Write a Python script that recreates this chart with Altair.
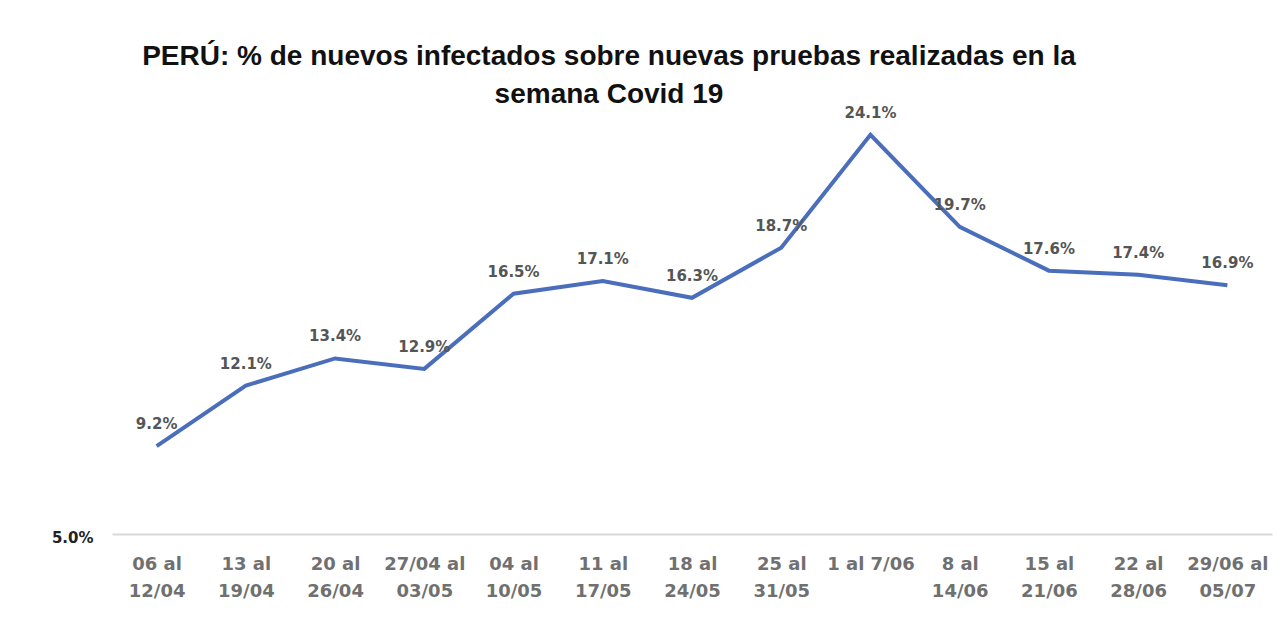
import altair as alt
import pandas as pd

semanas = [
    "06 al\n12/04", "13 al\n19/04", "20 al\n26/04", "27/04 al\n03/05",
    "04 al\n10/05", "11 al\n17/05", "18 al\n24/05", "25 al\n31/05",
    "1 al 7/06", "8 al\n14/06", "15 al\n21/06", "22 al\n28/06", "29/06 al\n05/07",
]
porcentaje = [9.2, 12.1, 13.4, 12.9, 16.5, 17.1, 16.3, 18.7, 24.1, 19.7, 17.6, 17.4, 16.9]

df = pd.DataFrame({"semana": semanas, "pct": porcentaje})

x = alt.X(
    "semana:N",
    sort=semanas,
    scale=alt.Scale(type="point", padding=0.5),
    axis=alt.Axis(
        title=None,
        labelAngle=0,
        ticks=False,
        domainColor="#d9d9d9",
        domainWidth=2,
        labelExpr="split(datum.label, '\\n')",
        labelFont="DejaVu Sans",
        labelFontSize=18,
        labelFontWeight="bold",
        labelColor="#707070",
        labelPadding=21,
        labelLineHeight=27,
        labelBaseline="top",
    ),
)
y = alt.Y(
    "pct:Q",
    scale=alt.Scale(domain=[5, 25], nice=False, zero=False),
    axis=alt.Axis(
        title=None,
        values=[5],
        grid=False,
        ticks=False,
        domain=False,
        labelExpr="format(datum.value, '.1f') + '%'",
        labelFont="DejaVu Sans",
        labelFontSize=15,
        labelFontWeight="bold",
        labelColor="#222222",
        labelPadding=19,
        labelBaseline="middle",
        labelOffset=3,
    ),
)

line = alt.Chart(df).mark_line(color="#4A6EBB", strokeWidth=4, strokeJoin="miter").encode(x=x, y=y)

labels = alt.Chart(df).transform_calculate(
    txt="format(datum.pct, '.1f') + '%'"
).mark_text(
    dy=-22,
    font="DejaVu Sans",
    fontSize=15,
    fontWeight="bold",
    color="#555555",
    baseline="middle",
).encode(x=x, y=y, text="txt:N")

chart = (
    (line + labels)
    .properties(
        width=1160,
        height=418,
        autosize=alt.AutoSizeParams(type="none"),
        padding={"left": 104, "top": 108, "right": 6, "bottom": 90},
        title=alt.TitleParams(
            text=["PERÚ: % de nuevos infectados sobre nuevas pruebas realizadas en la", "semana Covid 19"],
            anchor="middle",
            dx=-83,
            dy=3,
            font="Liberation Sans",
            fontSize=28,
            fontWeight="bold",
            color="#111111",
            lineHeight=38,
            offset=0,
        ),
        background="white",
    )
    .configure_view(stroke=None)
)

chart.save("out.html", embed_options={"renderer": "svg", "actions": False})
